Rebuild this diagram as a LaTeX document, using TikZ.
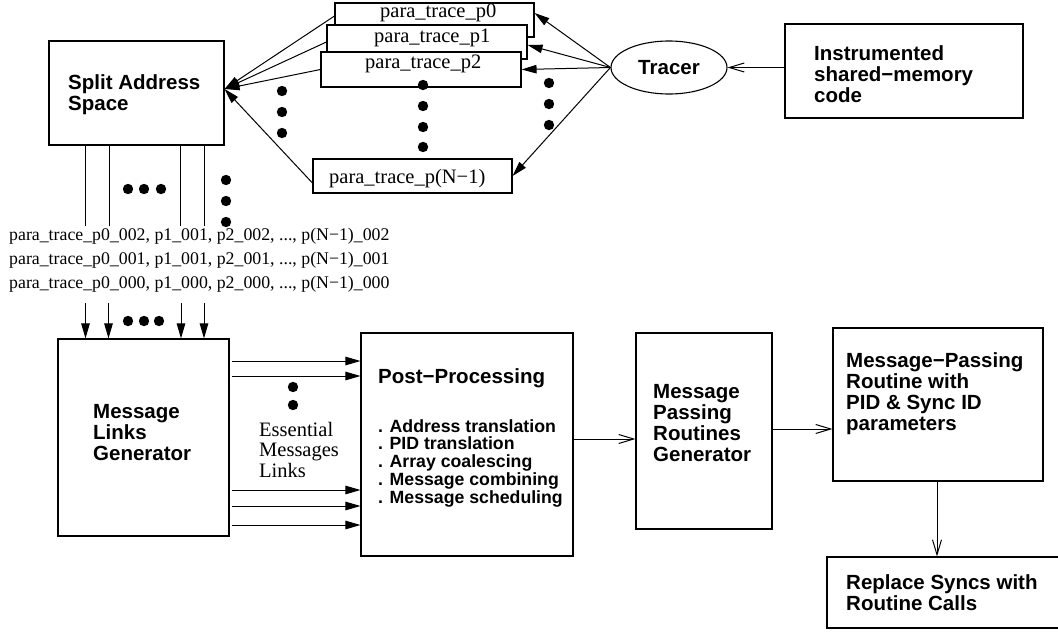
\documentclass[tikz,border=0pt]{standalone}
\usepackage{fontspec}
\setmainfont{Liberation Serif}
\setsansfont{Liberation Sans}
\usetikzlibrary{arrows.meta,shapes.geometric}

% left-aligned stack of lines whose baseline is that of the first line
\newcommand{\leftlines}[1]{\vtop{\halign{##\hfil\cr#1\crcr}}}

\begin{document}
\begin{tikzpicture}[x=1pt,y=-1pt,
  box/.style={draw,rectangle,line width=1.1pt,fill=white,inner sep=0pt},
  sanstext/.style={font=\sffamily\bfseries\fontsize{20.5}{21}\selectfont,inner sep=0pt,anchor=base west},
  romantext/.style={font=\rmfamily\fontsize{20.5}{20.5}\selectfont,inner sep=0pt,anchor=base west},
  listtext/.style={font=\sffamily\bfseries\fontsize{17.7}{17.8}\selectfont,inner sep=0pt,anchor=base west},
  solid head/.style={-{Triangle[length=15pt,width=8.5pt]},line width=1pt},
  open head/.style={-{Straight Barb[length=15pt,width=9pt]},line width=1pt},
  bigdot/.style={fill=black}
]
\useasboundingbox (0,0) rectangle (1058,632);

% ---- top row: trace files, tracer, source code
\node[box,minimum width=175pt,minimum height=104pt] (split) at (136.5,93) {};
\node[sanstext] (splitlbl) at (68,89) {\leftlines{Split Address\cr Space}};

\node[box,minimum width=199pt,minimum height=34pt] (p0) at (434.5,20) {};
\node[romantext] (p0lbl) at (380,17) {para\_trace\_p0};
\node[box,minimum width=200pt,minimum height=34pt] (p1) at (427,42) {};
\node[romantext] (p1lbl) at (374,42) {para\_trace\_p1};
\node[box,minimum width=200pt,minimum height=35pt] (p2) at (421,69.5) {};
\node[romantext] (p2lbl) at (365,68) {para\_trace\_p2};
\node[box,minimum width=199pt,minimum height=34pt] (pN) at (412.5,176) {};
\node[romantext] (pNlbl) at (329,183) {para\_trace\_p(N−1)};

\node[draw,ellipse,line width=1.1pt,minimum width=116pt,minimum height=53pt,inner sep=0pt,
      font=\sffamily\bfseries\fontsize{20.5}{21}\selectfont] (tracer) at (669,67.5) {Tracer};

\node[box,minimum width=238pt,minimum height=94pt] (instr) at (904,71) {};
\node[sanstext] (instrlbl) at (814,60) {\leftlines{Instrumented\cr shared−memory\cr code}};

% tracer writes one trace per process
\draw[solid head] (tracer.west) -- ([yshift=7pt]p0.east);
\draw[solid head] (tracer.west) -- ([yshift=-3pt]p1.east);
\draw[solid head] (tracer.west) -- (p2.east);
\draw[solid head] (tracer.west) -- (pN.east);
\draw[open head] (instr.west |- tracer.east) -- (tracer.east);

% traces feed the address splitter
\coordinate (splitin) at ([yshift=4pt]split.east);
\draw[solid head] ([yshift=4pt]p0.west) -- (splitin);
\draw[solid head] (p1.west) -- (splitin);
\draw[solid head] (p2.west) -- (splitin);
\draw[solid head] ([yshift=-7pt]pN.west) -- (splitin);

% ellipsis dots
\foreach \yy in {91,112,133} \fill[bigdot] (282,\yy) circle (5.2);
\foreach \yy in {85,106,127,147} \fill[bigdot] (423,\yy) circle (5.2);
\foreach \yy in {83,104,125} \fill[bigdot] (549,\yy) circle (5.2);

% split outputs
\foreach \xx [count=\i] in {85,109,180,204} {
  \coordinate (out\i) at (\xx,226);
  \draw[line width=1pt] (split.south -| \xx,0) -- (out\i);
}
\foreach \xx in {128,144,161} \fill[bigdot] (\xx,189) circle (5.2);
\foreach \yy in {180,201,222} \fill[bigdot] (226,\yy) circle (5.2);

% split file names
\node[romantext,font=\rmfamily\fontsize{17.8}{24}\selectfont] (names) at (9,240)
  {\leftlines{para\_trace\_p0\_002, p1\_001, p2\_002, ..., p(N−1)\_002\cr
              para\_trace\_p0\_001, p1\_001, p2\_001, ..., p(N−1)\_001\cr
              para\_trace\_p0\_000, p1\_000, p2\_000, ..., p(N−1)\_000}};

% ---- bottom row: processing pipeline
\node[box,minimum width=171pt,minimum height=197pt] (ml) at (143.5,437.5) {};
\node[sanstext] (mllbl) at (93,418) {\leftlines{Message\cr Links\cr Generator}};

\foreach \xx [count=\i] in {85.5,108.5,181,204} {
  \coordinate (in\i) at (\xx,303);
  \draw[solid head] (in\i) -- (ml.north -| \xx,0);
}
\foreach \xx in {128,144,159} \fill[bigdot] (\xx,321) circle (5.2);

\node[box,minimum width=212pt,minimum height=223pt] (pp) at (467,444.5) {};
\node[sanstext] (pptitle) at (378,383) {Post−Processing};
\node[listtext] (pplist) at (378,432) {\leftlines{. Address translation\cr . PID translation\cr
  . Array coalescing\cr . Message combining\cr . Message scheduling}};

\foreach \yy in {361,376,490,506,525}
  \draw[solid head] (ml.east |- 0,\yy) ++(2,0) -- (pp.west |- 0,\yy);
\foreach \yy in {387,405} \fill[bigdot] (293,\yy) circle (5.2);
\node[romantext] (links) at (259,436) {\leftlines{Essential\cr Messages\cr Links}};

\node[box,minimum width=136pt,minimum height=196pt] (mprg) at (704,431) {};
\node[sanstext] (mprglbl) at (653,398) {\leftlines{Message\cr Passing\cr Routines\cr Generator}};

\node[box,minimum width=210pt,minimum height=153pt] (mpr) at (938,404.5) {};
\node[sanstext] (mprlbl) at (846,367) {\leftlines{Message−Passing\cr Routine with\cr PID \& Sync ID\cr parameters}};

\node[box,minimum width=238pt,minimum height=71pt] (rep) at (946,592.5) {};
\node[sanstext] (replbl) at (846,589) {\leftlines{Replace Syncs with\cr Routine Calls}};

\draw[open head] (pp.east |- 0,439) -- (mprg.west |- 0,439);
\draw[open head] (mprg.east |- 0,429) -- (mpr.west |- 0,429);
\draw[open head] (mpr.south -| 937,0) -- (rep.north -| 937,0);
\end{tikzpicture}
\end{document}
